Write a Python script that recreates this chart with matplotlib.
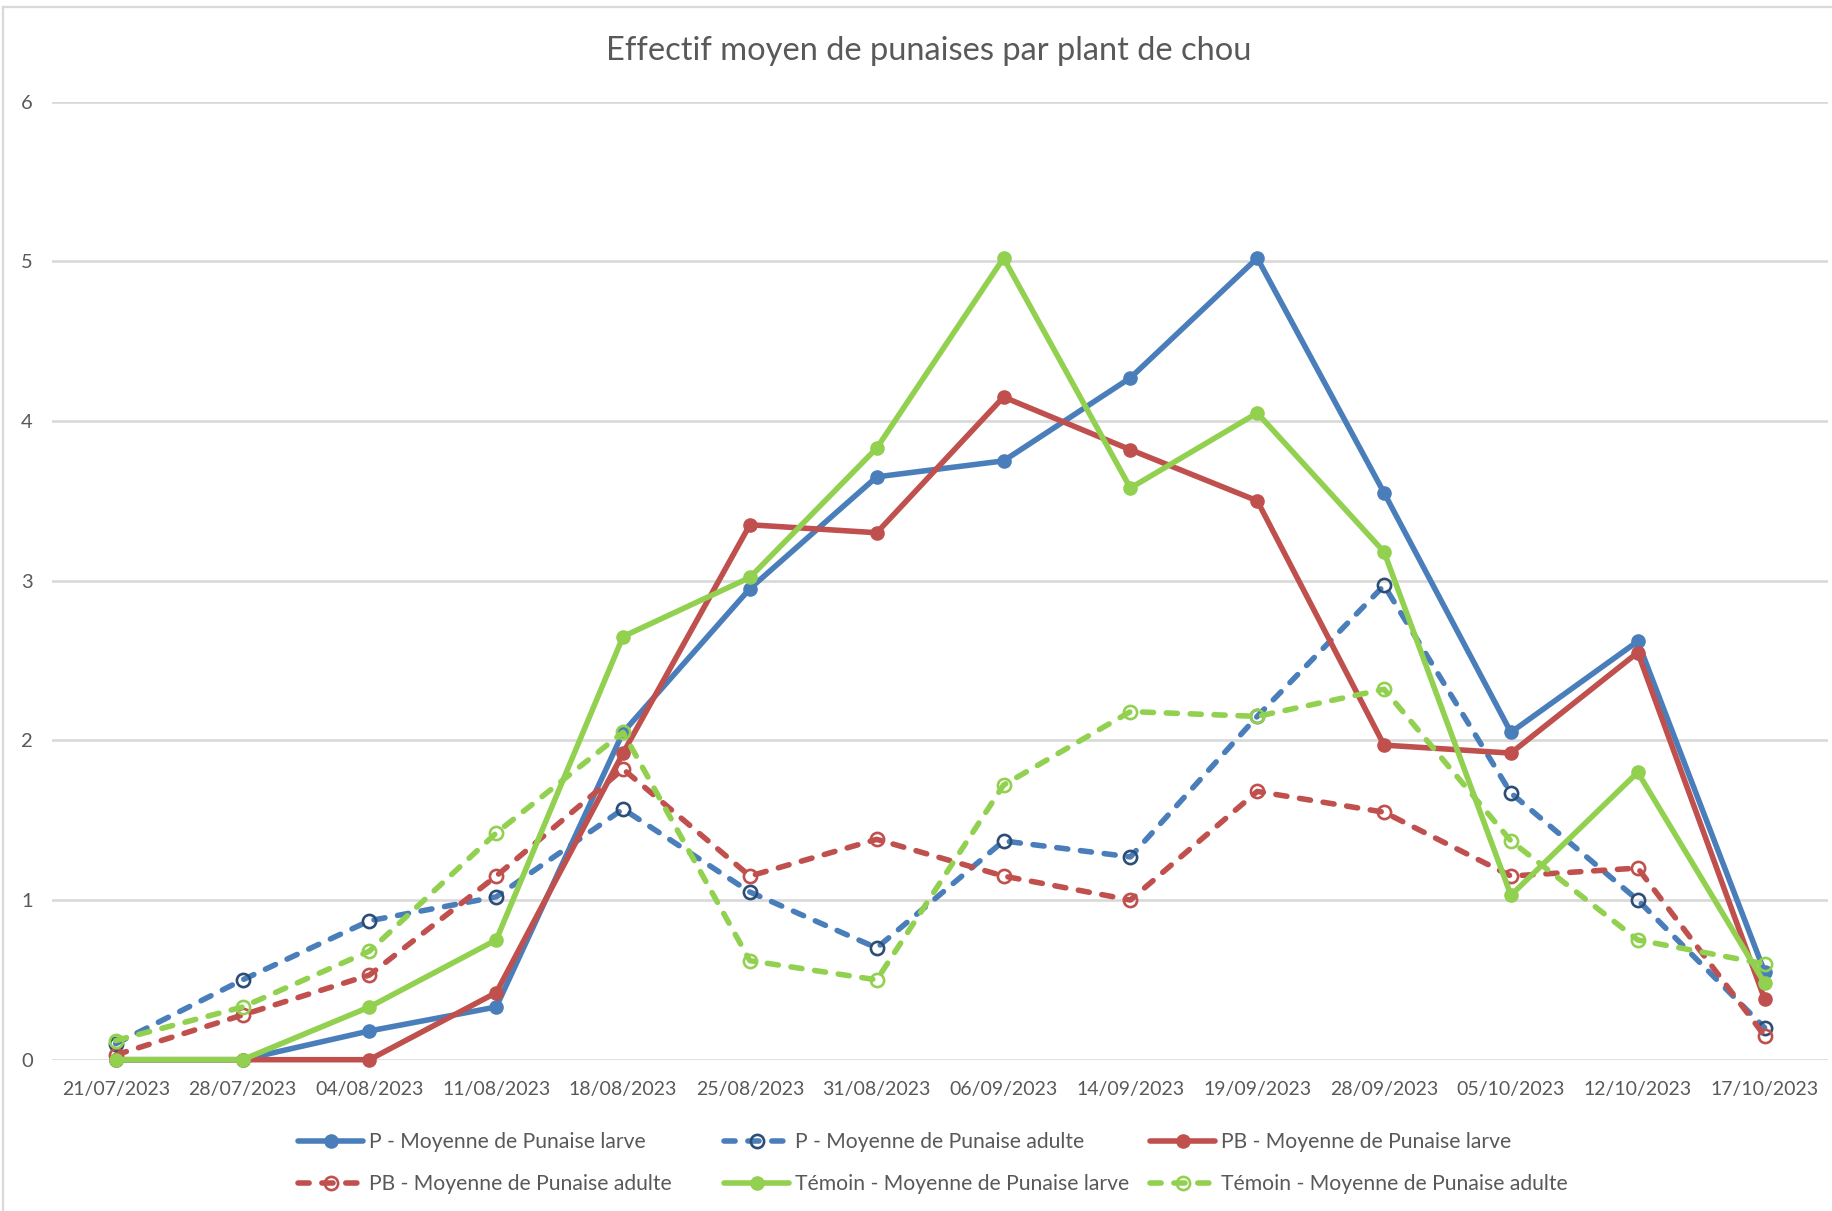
import matplotlib
matplotlib.use("Agg")
import matplotlib.pyplot as plt
from matplotlib.lines import Line2D

plt.rcParams['font.family'] = ['Lato', 'DejaVu Sans']

dates = ["21/07/2023", "28/07/2023", "04/08/2023", "11/08/2023", "18/08/2023",
         "25/08/2023", "31/08/2023", "06/09/2023", "14/09/2023", "19/09/2023",
         "28/09/2023", "05/10/2023", "12/10/2023", "17/10/2023"]

p_larve = [0, 0, 0.18, 0.33, 2.05, 2.95, 3.65, 3.75, 4.27, 5.02, 3.55, 2.05, 2.62, 0.55]
p_adulte = [0.10, 0.50, 0.87, 1.02, 1.57, 1.05, 0.70, 1.37, 1.27, 2.15, 2.97, 1.67, 1.00, 0.20]
pb_larve = [0, 0, 0, 0.42, 1.92, 3.35, 3.30, 4.15, 3.82, 3.50, 1.97, 1.92, 2.55, 0.38]
pb_adulte = [0.03, 0.28, 0.53, 1.15, 1.82, 1.15, 1.38, 1.15, 1.00, 1.68, 1.55, 1.15, 1.20, 0.15]
temoin_larve = [0, 0, 0.33, 0.75, 2.65, 3.02, 3.83, 5.02, 3.58, 4.05, 3.18, 1.03, 1.80, 0.48]
temoin_adulte = [0.12, 0.33, 0.68, 1.42, 2.05, 0.62, 0.50, 1.72, 2.18, 2.15, 2.32, 1.37, 0.75, 0.60]

labels = ["P - Moyenne de Punaise larve", "P - Moyenne de Punaise adulte",
          "PB - Moyenne de Punaise larve", "PB - Moyenne de Punaise adulte",
          "Témoin - Moyenne de Punaise larve", "Témoin - Moyenne de Punaise adulte"]

BLUE = "#4A7EBB"
NAVY = "#2C4D75"
RED = "#C0504D"
GREEN = "#92D050"
GRAY_TXT = "#595959"
GRID = "#D9D9D9"

W, H = 1832, 1211
fig = plt.figure(figsize=(W / 100, H / 100), dpi=100)
ax = fig.add_axes([52.3 / W, 1 - 1059.7 / H, (1828 - 52.3) / W, (1059.7 - 101.6) / H])

x = list(range(len(dates)))
lw = 4.0
dash = (2.0, 2.3)

series = [
    (p_larve, BLUE, '-', BLUE, BLUE),
    (p_adulte, BLUE, '--', NAVY, 'none'),
    (pb_larve, RED, '-', RED, RED),
    (pb_adulte, RED, '--', RED, 'none'),
    (temoin_larve, GREEN, '-', GREEN, GREEN),
    (temoin_adulte, GREEN, '--', GREEN, 'none'),
]

handles = []
for (vals, col, ls, mec, mfc), lab in zip(series, labels):
    if ls == '-':
        ln, = ax.plot(x, vals, color=col, lw=lw, marker='o', markersize=9.5,
                      mfc=mfc, mec=mec, solid_capstyle='round',
                      solid_joinstyle='round', label=lab, clip_on=False)
    else:
        ln, = ax.plot(x, vals, color=col, lw=lw, linestyle=(0, dash), marker='o',
                      markersize=9.5, mfc=mfc, mec=mec, mew=1.9,
                      dash_capstyle='round', dash_joinstyle='round',
                      label=lab, clip_on=False)
    handles.append(ln)

ax.set_xlim(-0.5, len(dates) - 0.5)
ax.set_ylim(0, 6)
ax.set_yticks([0, 1, 2, 3, 4, 5, 6])
ax.set_xticks(x)
ax.set_xticklabels(dates)
for s in ax.spines.values():
    s.set_visible(False)
ax.yaxis.grid(True, color=GRID, lw=1.9)
ax.set_axisbelow(True)
ax.tick_params(axis='both', length=0, labelsize=14, colors=GRAY_TXT)
ax.tick_params(axis='y', labelsize=14.5, pad=14)
ax.tick_params(axis='x', pad=15)

fig.text(928.6 / W, 1 - 51.4 / H, "Effectif moyen de punaises par plant de chou",
         ha='center', va='center', fontsize=23.5, color=GRAY_TXT)

# legend: three equal-width columns
col_x = [298, 724, 1150]
cols = [[0, 3], [1, 4], [2, 5]]
for cx, idx in zip(col_x, cols):
    leg = fig.legend([handles[i] for i in idx], [labels[i] for i in idx],
                     loc='center left', bbox_to_anchor=(cx / W, 1 - 1163 / H),
                     frameon=False, fontsize=15.2, handlelength=3.1,
                     handletextpad=0.28, labelspacing=1.05, borderpad=0,
                     borderaxespad=0)
    for t in leg.get_texts():
        t.set_color(GRAY_TXT)

# outer chart frame (top and left visible)
fig.add_artist(Line2D([3 / W, 3 / W], [0, 1 - 7 / H], transform=fig.transFigure,
                      color=GRID, lw=1.6))
fig.add_artist(Line2D([3 / W, 1], [1 - 7 / H, 1 - 7 / H], transform=fig.transFigure,
                      color=GRID, lw=1.6))

fig.savefig("out.png", dpi=100, facecolor='white')
